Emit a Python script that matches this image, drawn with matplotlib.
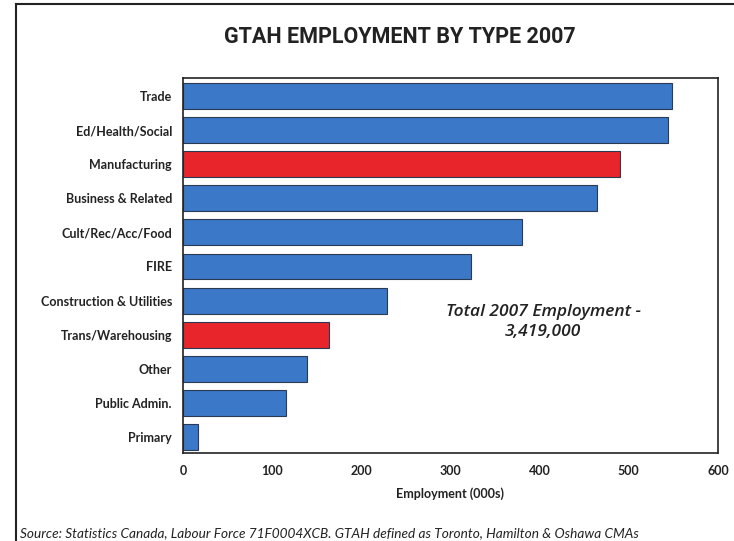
import matplotlib
matplotlib.use("Agg")
import matplotlib.pyplot as plt
from matplotlib.lines import Line2D

categories = ["Trade", "Ed/Health/Social", "Manufacturing", "Business & Related",
              "Cult/Rec/Acc/Food", "FIRE", "Construction & Utilities",
              "Trans/Warehousing", "Other", "Public Admin.", "Primary"]
employment = [548, 544, 490, 464, 380, 323, 229, 164, 139, 116, 17]
highlighted = ["Manufacturing", "Trans/Warehousing"]
x_ticks = [0, 100, 200, 300, 400, 500, 600]

BLUE = "#3b78c8"
RED = "#e8252a"
fonts = ["Lato", "DejaVu Sans"]

fig = plt.figure(figsize=(7.34, 5.41), dpi=100)
ax = fig.add_axes([0.2493, 0.1627, 0.7289, 0.6932])

colors = [RED if c in highlighted else BLUE for c in categories]
ypos = range(len(categories))
ax.barh(ypos, employment, height=0.76, color=colors, edgecolor="#2a3a55", linewidth=0.8)

ax.set_xlim(0, 600)
ax.set_ylim(len(categories) - 0.53, -0.53)
ax.set_yticks(list(ypos))
ax.set_yticklabels(categories, family=fonts, fontweight="bold", fontsize=9, color="#222222")
ax.set_xticks(x_ticks)
ax.set_xticklabels([str(t) for t in x_ticks], family=fonts, fontweight="bold", fontsize=9, color="#222222")
ax.tick_params(axis="both", length=0)
ax.tick_params(axis="y", pad=8)
ax.tick_params(axis="x", pad=9)
for s in ax.spines.values():
    s.set_linewidth(1.2)
    s.set_color("#222222")

ax.set_xlabel("Employment (000s)", family=fonts, fontweight="bold", fontsize=9, labelpad=7, color="#222222")

ax.text(0.673, 0.35, "Total 2007 Employment -\n3,419,000", transform=ax.transAxes,
        ha="center", va="center", fontsize=12.5, style="italic", fontweight="semibold",
        family=["Open Sans", "DejaVu Sans"], linespacing=1.3, color="#222222")

fig.text(0.545, 0.932, "GTAH EMPLOYMENT BY TYPE 2007", ha="center", va="center",
         fontsize=15.5, fontweight="bold", family=["Liberation Sans Narrow", "Roboto"], color="#222222")

fig.text(0.027, 0.015, "Source: Statistics Canada, Labour Force 71F0004XCB. GTAH defined as Toronto, Hamilton & Oshawa CMAs",
         ha="left", va="center", fontsize=9.8, style="italic", family=fonts, color="#222222")

# outer frame of the slide
fig.add_artist(Line2D([0.022, 0.022], [0.0, 0.993], transform=fig.transFigure, color="#222222", linewidth=1.5))
fig.add_artist(Line2D([0.022, 1.0], [0.993, 0.993], transform=fig.transFigure, color="#222222", linewidth=1.5))

fig.savefig("out.png", dpi=100)
